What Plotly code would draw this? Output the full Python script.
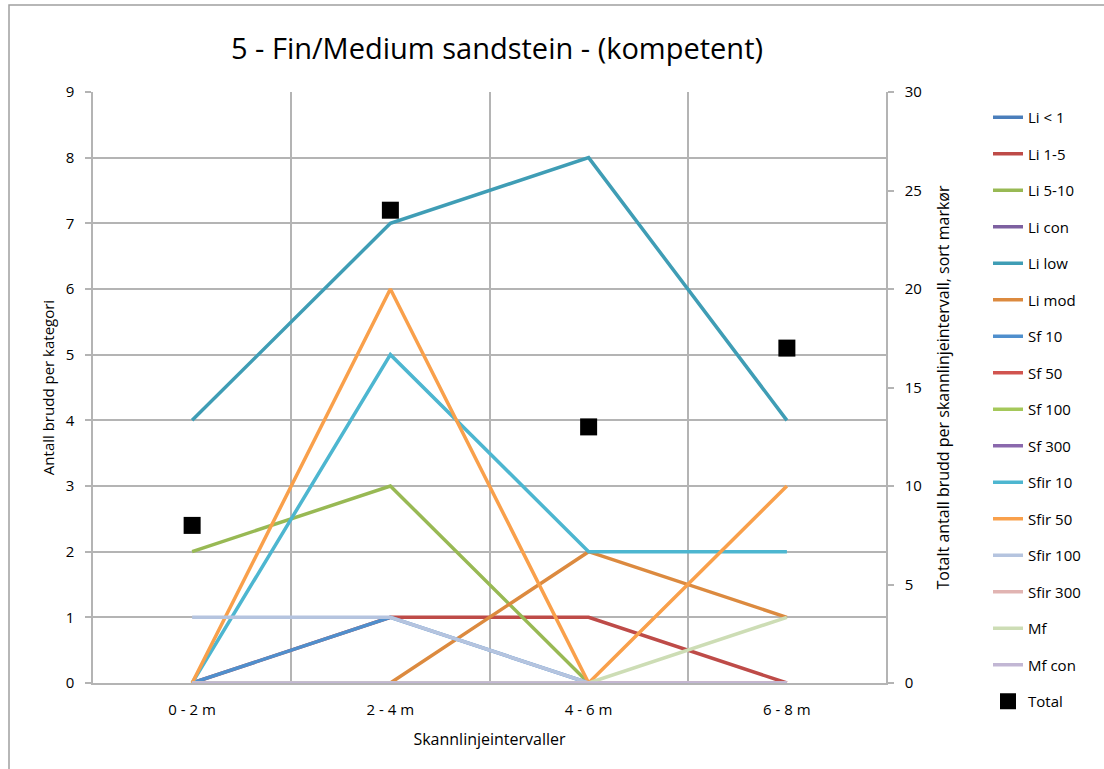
import plotly.graph_objects as go

# Scan-line intervals along the x axis
intervals = ["0 - 2 m", "2 - 4 m", "4 - 6 m", "6 - 8 m"]

# Fracture counts per category and interval
li_lt1 = [0, 0, 0, 0]
li_1_5 = [0, 1, 1, 0]
li_5_10 = [2, 3, 0, 0]
li_con = [0, 0, 0, 0]
li_low = [4, 7, 8, 4]
li_mod = [0, 0, 2, 1]
sf_10 = [0, 1, 0, 0]
sf_50 = [0, 0, 0, 0]
sf_100 = [0, 0, 0, 0]
sf_300 = [0, 0, 0, 0]
sfir_10 = [0, 5, 2, 2]
sfir_50 = [0, 6, 0, 3]
sfir_100 = [1, 1, 0, 0]
sfir_300 = [0, 0, 0, 0]
mf = [0, 0, 0, 1]
mf_con = [0, 0, 0, 0]

# Total fractures per interval (right axis)
total = [8, 24, 13, 17]

series_names = ["Li < 1", "Li 1-5", "Li 5-10", "Li con", "Li low", "Li mod",
                "Sf 10", "Sf 50", "Sf 100", "Sf 300",
                "Sfir 10", "Sfir 50", "Sfir 100", "Sfir 300", "Mf", "Mf con"]
series_values = [li_lt1, li_1_5, li_5_10, li_con, li_low, li_mod,
                 sf_10, sf_50, sf_100, sf_300,
                 sfir_10, sfir_50, sfir_100, sfir_300, mf, mf_con]
series_colors = ["#4A7EBB", "#BE4B48", "#98B954", "#7D60A0", "#3F9DB5", "#DC8A3F",
                 "#4F8FCD", "#D1544F", "#A5C85A", "#8A68AD",
                 "#4DB6D0", "#F9A04B", "#B5C4DF", "#E1B4B2", "#CDDDB5", "#C2B7D4"]

FONT = "Open Sans, Liberation Sans, sans-serif"
GRID = "#B4B4B4"

fig = go.Figure()

for i, (name, vals, col) in enumerate(zip(series_names, series_values, series_colors)):
    fig.add_trace(go.Scatter(
        x=intervals, y=vals, name=name, mode="lines",
        line=dict(color=col, width=3.5),
        legendgroup=f"g{i}", yaxis="y",
    ))

fig.add_trace(go.Scatter(
    x=intervals, y=total, name="Total", mode="markers",
    marker=dict(symbol="square", size=17, color="black"),
    legendgroup="gt", yaxis="y2",
))

fig.update_layout(
    width=1104, height=769,
    margin=dict(l=93, r=218, t=92, b=86),
    paper_bgcolor="white", plot_bgcolor="white",
    font=dict(family=FONT, size=15, color="#000000"),
    title=dict(
        text="5 - Fin/Medium sandstein - (kompetent)",
        x=497 / 1104, xanchor="center", y=1 - 49 / 769, yanchor="middle",
        font=dict(family=FONT, size=29, color="#000000"),
    ),
    xaxis=dict(
        type="category", range=[-0.5, 3.5], tickson="boundaries",
        showgrid=True, gridcolor=GRID, gridwidth=1.5,
        showline=True, linecolor=GRID, linewidth=1.5,
        ticks="", ticklen=0, ticklabelstandoff=12,
        title=dict(text="Skannlinjeintervaller", font=dict(size=16), standoff=16),
        tickfont=dict(size=15),
    ),
    yaxis=dict(
        range=[0, 9], dtick=1, tick0=0,
        showgrid=True, gridcolor=GRID, gridwidth=1.5,
        showline=True, linecolor=GRID, linewidth=1.5,
        ticks="outside", ticklen=6, tickcolor=GRID, tickwidth=1.5,
        ticklabelstandoff=8, zeroline=False,
        title=dict(text="Antall brudd per kategori", font=dict(size=15), standoff=7),
        tickfont=dict(size=15),
    ),
    yaxis2=dict(
        range=[0, 30], dtick=5, tick0=0, overlaying="y", side="right",
        showgrid=False, zeroline=False,
        showline=True, linecolor=GRID, linewidth=1.5,
        ticks="outside", ticklen=6, tickcolor=GRID, tickwidth=1.5,
        ticklabelstandoff=8,
        title=dict(text="Totalt antall brudd per skannlinjeintervall, sort markør",
                   font=dict(size=16), standoff=17),
        tickfont=dict(size=15),
    ),
    legend=dict(
        yref="container", xref="container",
        x=988 / 1104, xanchor="left", y=1 - 101 / 769, yanchor="top",
        font=dict(size=15), tracegroupgap=14, traceorder="grouped",
        bgcolor="rgba(0,0,0,0)", itemwidth=30, maxheight=1,
    ),
    shapes=[dict(
        type="rect", xref="paper", yref="paper",
        x0=(9 - 93) / 793, x1=(1115 - 93) / 793,
        y0=(683 - 780) / 591, y1=(683 - 5) / 591,
        line=dict(color="#A0A0A0", width=1.5), fillcolor="rgba(0,0,0,0)",
        layer="below",
    )],
)

fig.write_html("out.html")
